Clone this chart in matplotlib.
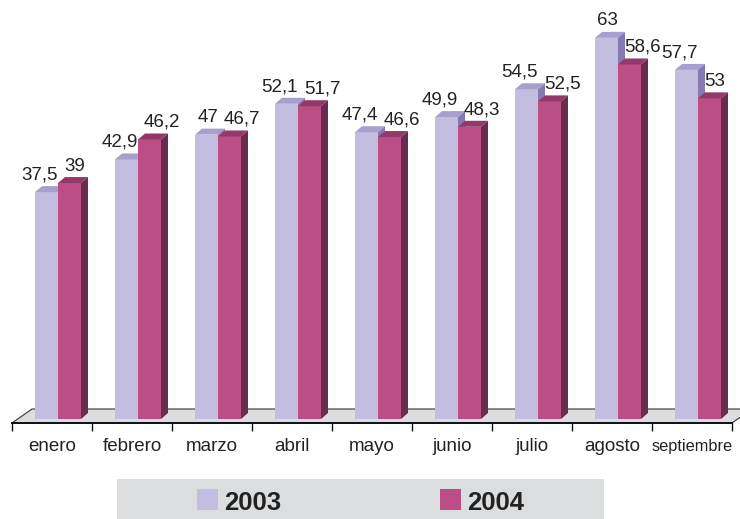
import matplotlib
matplotlib.use("Agg")
import matplotlib.pyplot as plt
from matplotlib.patches import Polygon, Rectangle
import numpy as np

plt.rcParams['font.family'] = ['Liberation Sans', 'DejaVu Sans']

months = ["enero", "febrero", "marzo", "abril", "mayo", "junio", "julio", "agosto", "septiembre"]
v2003 = [37.5, 42.9, 47, 52.1, 47.4, 49.9, 54.5, 63, 57.7]
v2004 = [39, 46.2, 46.7, 51.7, 46.6, 48.3, 52.5, 58.6, 53]
labels2003 = ["37,5", "42,9", "47", "52,1", "47,4", "49,9", "54,5", "63", "57,7"]
labels2004 = ["39", "46,2", "46,7", "51,7", "46,6", "48,3", "52,5", "58,6", "53"]
series = ["2003", "2004"]

# front / top / side shades for each series
c2003 = ("#c3bedf", "#a79fcc", "#8579b0")
c2004 = ("#bb4e86", "#94386a", "#6a2c4b")

W, H = 740, 519
fig = plt.figure(figsize=(W / 100, H / 100), dpi=100)
ax = fig.add_axes([0, 0, 1, 1])

# pixel layout: category width 80px starting at x=12, zero line at y=419, 6.05 px per unit
px_x = 80.0
px_y = 6.05
x0, y0 = 12, 419
ax.set_xlim(-0.5 - x0 / px_x, -0.5 + (W - x0) / px_x)
ax.set_ylim((y0 - H) / px_y, y0 / px_y)
ax.axis('off')

dx = 7 / px_x   # bar depth
dy = 6 / px_y
bw = 23 / px_x  # bar width

# floor
fdx, fdy = 20 / px_x, 14 / px_y
yf = (y0 - 423) / px_y
floor = Polygon([(-0.5, yf), (8.5, yf), (8.5 + fdx, yf + fdy), (-0.5 + fdx, yf + fdy)],
                closed=True, facecolor="#dcdcde", edgecolor="#333333", lw=0.8, zorder=1)
ax.add_patch(floor)
ax.plot([-0.5, 8.5], [yf, yf], color="#111111", lw=1.4, zorder=2)
ax.vlines(np.arange(-0.5, 9.0, 1.0), (y0 - 431) / px_y, yf, color="#111111", lw=1.0, zorder=2)

x = np.arange(len(months))
left03 = x - 17 / px_x
left04 = x + 6 / px_x


def bar3d(left, h, cols, z):
    ax.bar(left, h, width=bw, align='edge', color=cols[0], lw=0, zorder=z)
    for l, v in zip(left, h):
        top = Polygon([(l, v), (l + bw, v), (l + bw + dx, v + dy), (l + dx, v + dy)],
                      closed=True, facecolor=cols[1], lw=0, zorder=z)
        side = Polygon([(l + bw, 0), (l + bw + dx, dy), (l + bw + dx, v + dy), (l + bw, v)],
                       closed=True, facecolor=cols[2], lw=0, zorder=z)
        ax.add_patch(top)
        ax.add_patch(side)


bar3d(left03, v2003, c2003, 3)
bar3d(left04, v2004, c2004, 4)

gap = 12.5 / px_y
for i in range(len(months)):
    ax.text(left03[i] + bw, v2003[i] + gap, labels2003[i],
            ha='right', va='baseline', fontsize=13.5, color="#222222", zorder=6)
    ax.text(left04[i] + 6 / px_x, v2004[i] + gap, labels2004[i],
            ha='left', va='baseline', fontsize=13.5, color="#222222", zorder=6)

for i, m in enumerate(months):
    fs = 11.8 if m == "septiembre" else 13.5
    ax.text(x[i], (y0 - 451) / px_y, m, ha='center', va='baseline',
            fontsize=fs, color="#222222")

# legend box
fig.patches.append(Rectangle((117 / W, 0), 487 / W, 40 / H, transform=fig.transFigure,
                             facecolor="#dcdddf", edgecolor='none', zorder=0))
for sx, tx, col, name in [(197, 224, c2003[0], series[0]), (440, 467, c2004[0], series[1])]:
    fig.patches.append(Rectangle((sx / W, (H - 510) / H), 21 / W, 21 / H, transform=fig.transFigure,
                                 facecolor=col, edgecolor='none', zorder=1))
    fig.text(tx / W, (H - 510) / H, name, fontsize=18.5, fontweight='bold', color="#222222",
             ha='left', va='baseline')

fig.savefig("out.png", dpi=100)
